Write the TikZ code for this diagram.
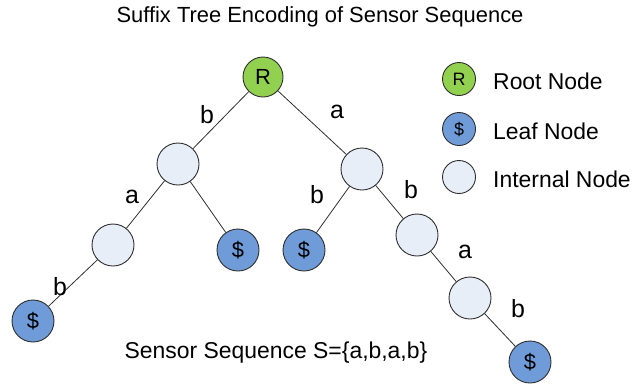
\documentclass[tikz,border=0pt]{standalone}
\usepackage{fontspec}
\setmainfont{Liberation Sans}
\definecolor{rootgreen}{HTML}{92D050}
\definecolor{leafblue}{HTML}{6F9BD8}
\definecolor{innerfill}{HTML}{E8EEF8}
\definecolor{rim}{HTML}{2E2E2E}
\tikzset{
  treenode/.style={circle, draw=rim, line width=0.9bp, minimum size=42bp, inner sep=0pt, font=\fontsize{22}{24}\selectfont},
  rootnode/.style={treenode, fill=rootgreen, minimum size=40bp},
  leafnode/.style={treenode, fill=leafblue},
  innernode/.style={treenode, fill=innerfill},
  keynode/.style={circle, draw=rim, line width=0.9bp, minimum size=33bp, inner sep=0pt, font=\fontsize{18}{20}\selectfont},
  edgelabel/.style={inner sep=0pt, font=\fontsize{25}{28}\selectfont},
  keytext/.style={anchor=west, inner sep=0pt, font=\fontsize{23}{26}\selectfont},
  edge/.style={draw=rim, line width=0.8bp}
}
\begin{document}
\begin{tikzpicture}[x=1bp, y=-1bp]
  \useasboundingbox (0,0) rectangle (638,386);

  % title and caption
  \node[inner sep=0pt, font=\fontsize{22}{24}\selectfont] (title) at (320,17) {Suffix Tree Encoding of Sensor Sequence};
  \node[inner sep=0pt, font=\fontsize{23}{26}\selectfont] (caption) at (276,353) {Sensor Sequence S=\{a,b,a,b\}};

  % tree nodes
  \node[rootnode]  (root) at (263,77)  {R};
  \node[innernode] (l1)   at (178,164) {};
  \node[innernode] (r1)   at (362,169) {};
  \node[innernode] (l2)   at (113,245) {};
  \node[leafnode]  (lf1)  at (238,250) {\$};
  \node[leafnode]  (lf2)  at (304,250) {\$};
  \node[innernode] (r2)   at (417,235) {};
  \node[innernode] (r3)   at (470,298) {};
  \node[leafnode]  (lf0)  at (33,321)  {\$};
  \node[leafnode]  (lf3)  at (530,362) {\$};

  % edges
  \draw[edge] (root) -- (l1);
  \draw[edge] (root) -- (r1);
  \draw[edge] (l1) -- (l2);
  \draw[edge] (l1) -- (lf1);
  \draw[edge] (l2) -- (lf0);
  \draw[edge] (r1) -- (lf2);
  \draw[edge] (r1) -- (r2);
  \draw[edge] (r2) -- (r3);
  \draw[edge] (r3) -- (lf3);

  % edge labels
  \node[edgelabel] (eb1) at (207,115) {b};
  \node[edgelabel] (ea1) at (337,112) {a};
  \node[edgelabel] (ea2) at (132,197) {a};
  \node[edgelabel] (eb2) at (60,287)  {b};
  \node[edgelabel] (eb3) at (317,195) {b};
  \node[edgelabel] (eb4) at (411,190) {b};
  \node[edgelabel] (ea3) at (465,252) {a};
  \node[edgelabel] (eb5) at (518,309) {b};

  % legend
  \node[keynode, fill=rootgreen] (kroot) at (459,79)  {R};
  \node[keynode, fill=leafblue]  (kleaf) at (459,129) {\$};
  \node[keynode, fill=innerfill] (kinner) at (459,177) {};
  \node[keytext] (troot)  at (493,81)  {Root Node};
  \node[keytext] (tleaf)  at (493,131) {Leaf Node};
  \node[keytext] (tinner) at (493,179) {Internal Node};
\end{tikzpicture}
\end{document}
